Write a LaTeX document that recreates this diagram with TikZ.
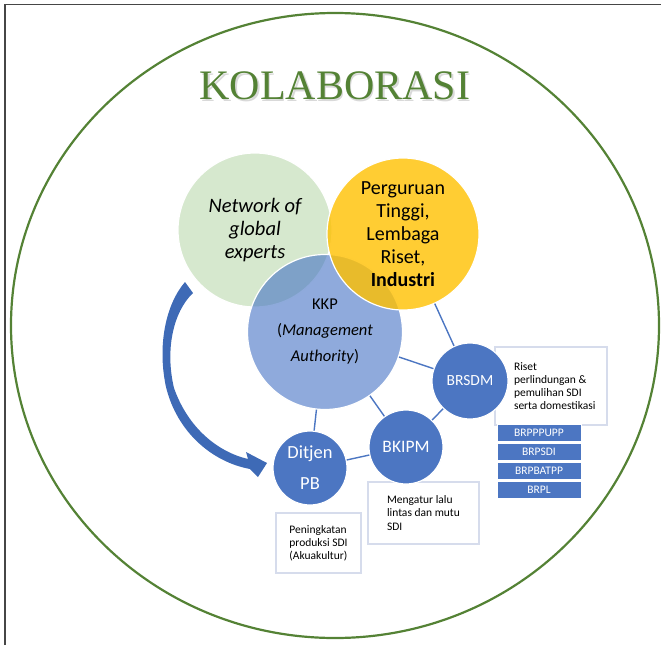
\documentclass[tikz,border=0pt]{standalone}
\usepackage{fontspec}
\setmainfont{Carlito}
\newfontfamily\judulfont{Liberation Serif}
\usetikzlibrary{positioning}

\definecolor{kolagreen}{RGB}{84,130,53}
\definecolor{netgreen}{RGB}{214,232,206}
\definecolor{kkpblue}{RGB}{68,114,196}
\definecolor{gold}{RGB}{255,192,0}
\definecolor{unitblue}{RGB}{76,118,194}
\definecolor{arrowblue}{RGB}{62,106,182}
\definecolor{boxline}{RGB}{214,220,236}
\definecolor{framegray}{RGB}{70,70,70}

\begin{document}
\begin{tikzpicture}[
    x=1pt, y=-1pt,
    node distance=19.2pt,
    lingkar/.style={circle, draw=white, line width=1.2pt, inner sep=0pt, align=center},
    unit/.style={lingkar, fill=unitblue, text=white},
    infobox/.style={rectangle, draw=boxline, line width=1.5pt, fill=white, inner sep=0pt,
      align=left, font=\fontsize{11.5}{13.2}\selectfont},
    brbox/.style={rectangle, fill=unitblue, draw=white, line width=.8pt, inner sep=0pt,
      minimum width=84pt, minimum height=17pt, text=white, font=\fontsize{11.5}{11.5}\selectfont},
    garis/.style={draw=unitblue, line width=1.4pt}
  ]
  \useasboundingbox (0,0) rectangle (661,645);

  % 外框与大椭圆
  \draw[framegray, line width=1.5pt] (5,645) -- (5,4.5) -- (661,4.5);
  \draw[kolagreen, line width=2.2pt] (335,325.5) ellipse [x radius=324, y radius=312.5];

  % 标题
  \node[text=black, text opacity=.15, font=\judulfont\fontsize{42}{42}\selectfont] at (336.5,87.5) {KOLABORASI};
  \node[text=kolagreen, font=\judulfont\fontsize{42}{42}\selectfont] (judul) at (335,86) {KOLABORASI};

  % 说明框
  \node[infobox, minimum width=112pt, minimum height=78pt] (risetbox) at (551,386) {};
  \node[infobox, draw=none, fill=none, anchor=west] (riset) at ([xshift=19pt]risetbox.west)
        {Riset\\perlindungan \&\\pemulihan SDI\\serta domestikasi};
  \node[infobox, minimum width=111pt, minimum height=62pt] (bkipmbox) at (423.5,513)
        {Mengatur lalu\\lintas dan mutu\\SDI};
  \node[infobox, minimum width=85pt, minimum height=60pt] (ditjenbox) at (318.5,543)
        {Peningkatan\\produksi SDI\\(Akuakultur)};

  % BRSDM下属单位
  \node[brbox] (brpppupp) at (539,432.5) {BRPPPUPP};
  \node[brbox] (brpsdi) [below of=brpppupp] {BRPSDI};
  \node[brbox] (brpbatpp) [below of=brpsdi] {BRPBATPP};
  \node[brbox] (brpl) [below of=brpbatpp] {BRPL};

  % 弯曲箭头
  \fill[arrowblue] (185,282) .. controls (166,304) and (157,345) .. (166,387)
    .. controls (177,432) and (212,462) .. (250,469) -- (258,477) -- (267,463)
    -- (246,452) -- (248,459)
    .. controls (218,452) and (188,428) .. (174,388)
    .. controls (165,350) and (173,312) .. (193,293) -- cycle;

  % 三个大圆
  \node[lingkar, fill=netgreen, minimum size=154pt,
        font=\itshape\fontsize{20.5}{23}\selectfont] (jaringan) at (255,230)
        {Network of\\global\\experts};
  \node[lingkar, fill=kkpblue, fill opacity=.6, text opacity=1, minimum size=155pt,
        font=\fontsize{16.5}{26}\selectfont] (kkp) at (325,332)
        {KKP\\(\textit{Management}\\\textit{Authority})};
  \node[lingkar, fill=gold, fill opacity=.8, text opacity=1, minimum size=152pt,
        font=\fontsize{20}{23}\selectfont] (pt) at (403,234)
        {Perguruan\\Tinggi,\\Lembaga\\Riset,\\\textbf{Industri}};

  % 执行单位
  \node[unit, minimum size=76pt, font=\fontsize{15.5}{18}\selectfont] (brsdm) at (470,381) {BRSDM};
  \node[unit, minimum size=74pt, font=\fontsize{17.5}{20}\selectfont] (bkipm) at (406,447) {BKIPM};
  \node[unit, minimum size=74pt, font=\fontsize{18.5}{31}\selectfont] (ditjen) at (310,468) {Ditjen\\PB};

  % 连线
  \draw[garis] (pt) -- (brsdm);
  \draw[garis] (kkp) -- (brsdm);
  \draw[garis] (kkp) -- (bkipm);
  \draw[garis] (kkp) -- (ditjen);
  \draw[garis] (brsdm) -- (bkipm);
  \draw[garis] (bkipm) -- (ditjen);

\end{tikzpicture}
\end{document}
